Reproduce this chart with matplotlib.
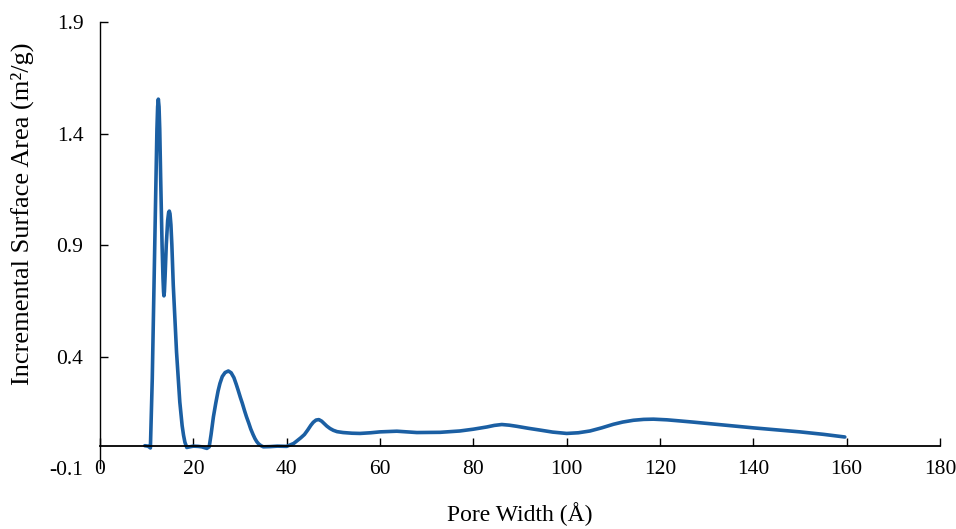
import matplotlib
matplotlib.use('Agg')
import matplotlib.pyplot as plt

plt.rcParams['font.family'] = ['Liberation Serif', 'DejaVu Serif']

# pore width (Å) and incremental surface area (m²/g)
pore_width = [9.6, 10.3, 10.8, 11.2, 11.6, 12.0, 12.2, 12.35, 12.5, 12.65,
              12.8, 13.0, 13.3, 13.5, 13.62, 13.7, 13.8, 13.95, 14.2, 14.5,
              14.7, 14.85, 15.0, 15.2, 15.4, 15.7, 16.4, 17.1, 17.6, 17.9,
              18.2, 18.6, 19.0, 20.0, 21.0, 21.8, 22.4, 22.9, 23.4, 23.8,
              24.3, 24.8, 25.3, 25.7, 26.2, 26.8, 27.5, 28.1, 28.7, 29.2,
              29.6, 30.1, 30.5, 31.0, 31.4, 31.9, 32.3, 32.8, 33.2, 33.6,
              34.0, 34.5, 35.0, 36.5, 38.0, 40.0, 41.5, 43.0, 43.8, 44.5,
              45.2, 45.7, 46.3, 46.9, 47.5, 48.0, 48.6, 49.3, 50.0, 50.8,
              52.1, 54.0, 55.7, 58.0, 60.0, 63.6, 67.9, 72.9, 77.1, 80.0,
              82.9, 84.5, 86.1, 87.7, 89.3, 91.8, 94.3, 97.0, 100.0, 102.5,
              105.0, 107.5, 110.0, 112.0, 114.3, 116.5, 118.6, 121.5, 124.3, 127.0,
              130.0, 135.0, 140.0, 145.0, 150.0, 155.0, 159.6]
surface_area = [0.0, -0.002, -0.01, 0.3, 0.75, 1.2, 1.42, 1.52, 1.554, 1.52,
                1.42, 1.2, 0.9, 0.75, 0.69, 0.672, 0.69, 0.76, 0.9, 1.01,
                1.045, 1.052, 1.04, 0.99, 0.9, 0.72, 0.42, 0.196, 0.09, 0.047,
                0.015, -0.008, -0.006, -0.002, -0.003, -0.005, -0.009, -0.012, -0.005, 0.05,
                0.129, 0.19, 0.245, 0.279, 0.31, 0.328, 0.335, 0.327, 0.305, 0.275,
                0.249, 0.215, 0.19, 0.155, 0.129, 0.1, 0.075, 0.05, 0.032, 0.018,
                0.008, 0.0, -0.005, -0.004, -0.002, -0.003, 0.01, 0.035, 0.05, 0.07,
                0.092, 0.105, 0.115, 0.117, 0.11, 0.1, 0.088, 0.077, 0.069, 0.063,
                0.059, 0.056, 0.055, 0.058, 0.062, 0.065, 0.059, 0.06, 0.066, 0.074,
                0.084, 0.091, 0.095, 0.092, 0.087, 0.078, 0.07, 0.061, 0.055, 0.058,
                0.066, 0.08, 0.096, 0.106, 0.114, 0.118, 0.119, 0.116, 0.111, 0.106,
                0.1, 0.09, 0.08, 0.071, 0.062, 0.051, 0.039]

x_ticks = [0, 20, 40, 60, 80, 100, 120, 140, 160, 180]
y_ticks = [-0.1, 0.4, 0.9, 1.4, 1.9]

fig = plt.figure(figsize=(9.56, 5.29), dpi=100)
ax = fig.add_axes([100 / 956, 1 - 468 / 529, 840 / 956, 446 / 529])

ax.plot(pore_width, surface_area, color='#1b5fa3', lw=2.6,
        solid_joinstyle='round', solid_capstyle='round')

ax.set_xlim(0, 180)
ax.set_ylim(-0.1, 1.9)
ax.set_xticks(x_ticks)
ax.set_yticks(y_ticks)
ax.set_yticklabels(['-0.1', '0.4', '0.9', '1.4', '1.9'])

ax.spines['top'].set_visible(False)
ax.spines['right'].set_visible(False)
ax.spines['bottom'].set_position(('data', 0))
ax.spines['bottom'].set_linewidth(1.3)
ax.spines['left'].set_linewidth(1.0)

ax.tick_params(axis='x', direction='in', length=6, width=1, pad=10, labelsize=15.5)
ax.tick_params(axis='y', direction='in', length=6, width=1, pad=12, labelsize=15.5)
# no tick mark at the bottom end of the y axis
ax.yaxis.get_major_ticks()[0].tick1line.set_visible(False)

fig.text(520 / 956, 1 - 514 / 529, 'Pore Width (Å)', ha='center', va='center', fontsize=17)
fig.text(22 / 956, 1 - 214 / 529, 'Incremental Surface Area (m²/g)', ha='center', va='center',
         rotation=90, fontsize=19)

fig.savefig('out.png', dpi=100)
